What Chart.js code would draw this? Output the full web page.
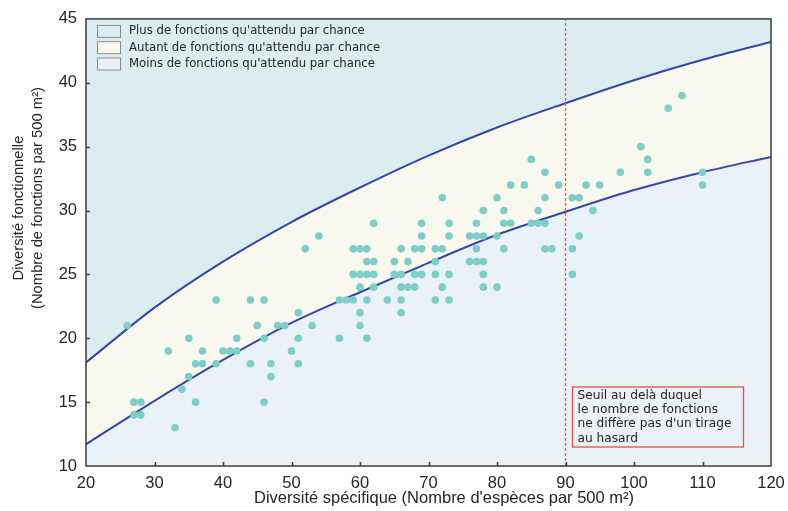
<!DOCTYPE html>
<html>
<head>
<meta charset="utf-8">
<script src="https://cdn.jsdelivr.net/npm/chart.js@4.4.1/dist/chart.umd.min.js"></script>
<style>
  html, body { margin: 0; padding: 0; background: #fff; }
</style>
</head>
<body>
<canvas id="chart" width="788" height="511"></canvas>
<script>
// one entry per plot: species richness (x) and functional richness (y)
const speciesX = [
  26, 27, 27, 28, 28, 32, 33, 34, 35, 35, 36, 36, 37, 37, 39, 39, 40, 41, 42, 42,
  44, 44, 45, 46, 46, 46, 47, 47, 48, 49, 50, 51, 51, 51, 52, 53, 54, 57, 57, 58,
  59, 59, 59, 60, 60, 60, 60, 60, 61, 61, 61, 61, 61, 62, 62, 62, 62, 64, 65, 65,
  66, 66, 66, 66, 66, 67, 67, 68, 68, 68, 69, 69, 69, 69, 71, 71, 71, 71, 72, 72,
  72, 73, 73, 73, 73, 76, 76, 77, 77, 77, 77, 78, 78, 78, 78, 78, 80, 80, 80, 81,
  81, 81, 82, 82, 84, 85, 85, 86, 86, 87, 87, 87, 87, 88, 89, 91, 91, 91, 92, 92,
  93, 94, 95, 98, 101, 102, 102, 105, 107, 110, 110
];
const functionsY = [
  21, 15, 14, 15, 14, 19, 13, 16, 20, 17, 18, 15, 19, 18, 23, 18, 19, 19, 20, 19,
  23, 18, 21, 23, 20, 15, 18, 17, 21, 21, 19, 22, 20, 18, 27, 21, 28, 23, 20, 23,
  27, 25, 23, 27, 25, 24, 22, 21, 27, 26, 25, 23, 20, 29, 26, 25, 24, 23, 26, 25,
  27, 25, 24, 23, 22, 26, 24, 27, 25, 24, 29, 28, 27, 25, 27, 26, 25, 23, 31, 27,
  24, 29, 28, 25, 23, 28, 26, 29, 28, 27, 26, 30, 28, 26, 25, 24, 31, 28, 24, 30,
  29, 27, 32, 29, 32, 34, 29, 30, 29, 33, 31, 29, 27, 27, 32, 31, 27, 25, 31, 28,
  32, 30, 32, 33, 35, 34, 33, 38, 39, 33, 32
];

const curveX = [20, 30, 40, 50, 60, 70, 80, 90, 100, 110, 120];
const upperY = [18.1, 22.4, 26.0, 29.1, 31.8, 34.3, 36.5, 38.4, 40.2, 41.8, 43.2];
const lowerY = [11.7, 15.1, 18.3, 21.2, 23.6, 25.9, 28.1, 29.9, 31.6, 33.0, 34.2];

const threshold = 90;

const xTicks = [20, 30, 40, 50, 60, 70, 80, 90, 100, 110, 120];
const yTicks = [10, 15, 20, 25, 30, 35, 40, 45];

const legendLabels = [
  "Plus de fonctions qu'attendu par chance",
  "Autant de fonctions qu'attendu par chance",
  "Moins de fonctions qu'attendu par chance"
];
const noteLines = [
  'Seuil au delà duquel',
  'le nombre de fonctions',
  "ne diffère pas d'un tirage",
  'au hasard'
];
const xTitle = "Diversité spécifique (Nombre d'espèces par 500 m²)";
const yTitle = ['Diversité fonctionnelle', '(Nombre de fonctions par 500 m²)'];

const aboveColor = '#dcedf1';
const bandColor = '#f9f8ee';
const belowColor = '#ebf1f8';
const textColor = '#262626';

// backgrounds, frame, legend, note box and axis titles
const decor = {
  id: 'decor',
  beforeDraw(chart) {
    const { ctx, chartArea: a } = chart;
    ctx.save();
    ctx.fillStyle = belowColor;
    ctx.fillRect(a.left, a.top, a.right - a.left, a.bottom - a.top);
    ctx.restore();
  },
  afterDraw(chart) {
    const { ctx, chartArea: a, scales: { x, y } } = chart;
    ctx.save();

    ctx.strokeStyle = '#3d3d3d';
    ctx.lineWidth = 1.5;
    ctx.strokeRect(a.left, a.top, a.right - a.left, a.bottom - a.top);
    ctx.beginPath();
    xTicks.slice(1, -1).forEach(v => {
      const px = Math.round(x.getPixelForValue(v)) + 0.5;
      ctx.moveTo(px, a.bottom);
      ctx.lineTo(px, a.bottom - 4);
    });
    yTicks.slice(1, -1).forEach(v => {
      const py = Math.round(y.getPixelForValue(v)) + 0.5;
      ctx.moveTo(a.left, py);
      ctx.lineTo(a.left + 4, py);
    });
    ctx.stroke();

    // legend
    const swatches = [aboveColor, bandColor, belowColor];
    ctx.font = '11.7px "DejaVu Sans"';
    ctx.textBaseline = 'middle';
    legendLabels.forEach((label, i) => {
      const top = a.top + 6 + i * 16.3;
      ctx.fillStyle = swatches[i];
      ctx.fillRect(a.left + 11, top, 24, 13);
      ctx.strokeStyle = '#8a8a8a';
      ctx.lineWidth = 1;
      ctx.strokeRect(a.left + 11.5, top + 0.5, 23, 12);
      ctx.fillStyle = textColor;
      ctx.fillText(label, a.left + 43, top + 6.5);
    });

    // note next to the threshold
    const bx = x.getPixelForValue(threshold) + 7;
    const by = a.bottom - 79;
    ctx.strokeStyle = '#e5503d';
    ctx.lineWidth = 1.3;
    ctx.strokeRect(bx, by, 171, 60);
    ctx.fillStyle = textColor;
    ctx.font = '12.2px "DejaVu Sans"';
    noteLines.forEach((line, i) => ctx.fillText(line, bx + 5, by + 8.5 + i * 14.3));

    // axis titles
    ctx.font = '16.5px "Liberation Sans"';
    ctx.textAlign = 'center';
    ctx.fillText(xTitle, 444, 498);
    ctx.font = '14.8px "Liberation Sans"';
    ctx.translate(19, 208);
    ctx.rotate(-Math.PI / 2);
    ctx.fillText(yTitle[0], 0, 0);
    ctx.fillText(yTitle[1], 10, 19);

    ctx.restore();
  }
};

const toPoints = (xs, ys) => xs.map((v, i) => ({ x: v, y: ys[i] }));
const tickFont = { family: 'Liberation Sans', size: 16.5 };

new Chart(document.getElementById('chart'), {
  type: 'scatter',
  data: {
    datasets: [
      {
        type: 'line',
        label: 'upper',
        data: toPoints(curveX, upperY),
        borderColor: '#3446a8',
        borderWidth: 2,
        backgroundColor: aboveColor,
        fill: 'end',
        pointRadius: 0,
        cubicInterpolationMode: 'monotone',
        order: 2
      },
      {
        type: 'line',
        label: 'lower',
        data: toPoints(curveX, lowerY),
        borderColor: '#3446a8',
        borderWidth: 2,
        backgroundColor: bandColor,
        fill: 0,
        pointRadius: 0,
        cubicInterpolationMode: 'monotone',
        order: 2
      },
      {
        label: 'plots',
        data: toPoints(speciesX, functionsY),
        backgroundColor: '#7dcdc8',
        borderWidth: 0,
        pointRadius: 3.8,
        order: 0
      },
      {
        type: 'line',
        label: 'threshold',
        data: [{ x: threshold, y: yTicks[0] }, { x: threshold, y: yTicks[yTicks.length - 1] }],
        borderColor: '#ea5a45',
        borderWidth: 1.3,
        borderDash: [3, 2],
        pointRadius: 0,
        fill: false,
        order: 1
      }
    ]
  },
  options: {
    responsive: false,
    animation: false,
    layout: { padding: { top: 18, right: 17, left: 0, bottom: 0 } },
    scales: {
      x: {
        type: 'linear',
        min: 20,
        max: 120,
        afterBuildTicks: s => { s.ticks = xTicks.map(v => ({ value: v })); },
        afterFit: s => { s.height = 45; s.paddingLeft = 0; s.paddingRight = 0; },
        ticks: { font: tickFont, color: textColor, padding: 8, maxRotation: 0 },
        grid: { display: false, drawTicks: false },
        border: { display: false }
      },
      y: {
        type: 'linear',
        min: 10,
        max: 45,
        afterBuildTicks: s => { s.ticks = yTicks.map(v => ({ value: v })); },
        afterFit: s => { s.width = 86; },
        ticks: { font: tickFont, color: textColor, padding: 9 },
        grid: { display: false, drawTicks: false },
        border: { display: false }
      }
    },
    plugins: {
      legend: { display: false },
      tooltip: { enabled: false },
      filler: { drawTime: 'beforeDatasetsDraw' }
    }
  },
  plugins: [decor]
});
</script>
</body>
</html>
